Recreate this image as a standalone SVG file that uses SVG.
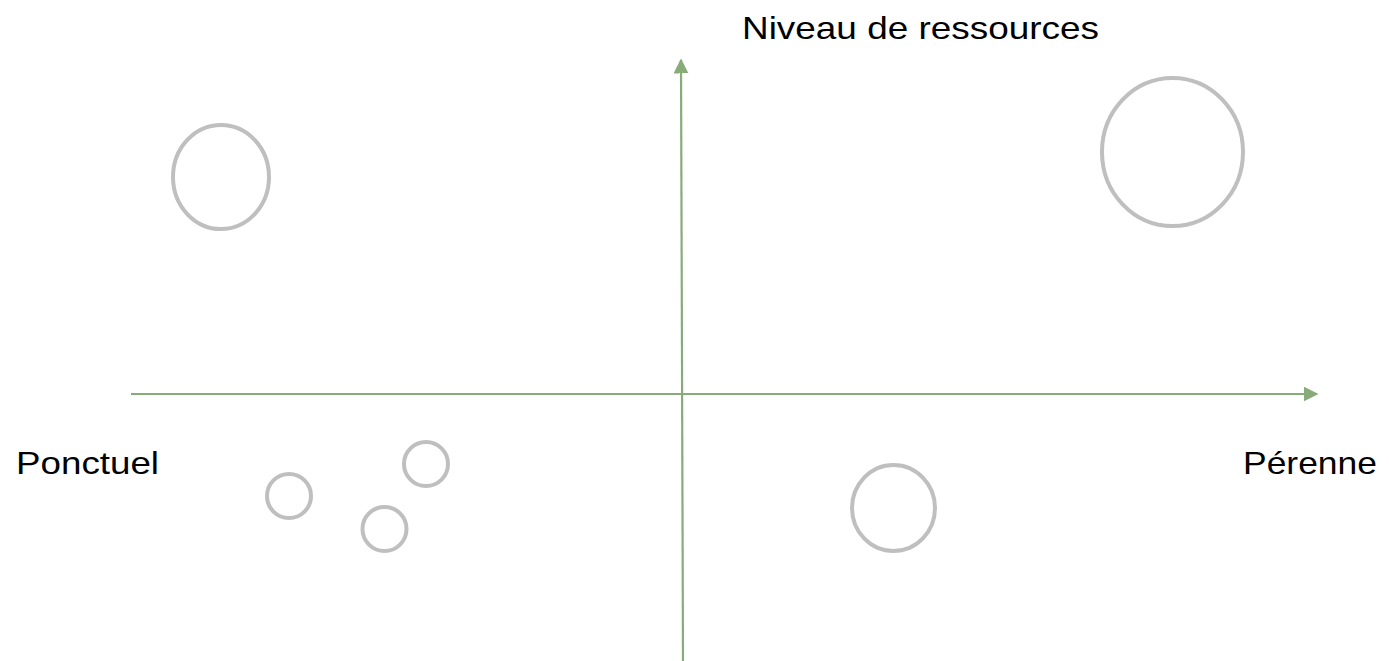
<svg xmlns="http://www.w3.org/2000/svg" width="1389" height="661" viewBox="0 0 1389 661">
<defs>
<style>
.axis{stroke:#88ab7a;stroke-width:2.2;fill:none}
.node{fill:none;stroke:#bfbfbf;stroke-width:4}
.lbl{font-family:"Liberation Sans",Arial,sans-serif;font-size:32px;fill:#000}
</style>
<marker id="ah" viewBox="0 0 10 10" refX="9" refY="5" markerWidth="15" markerHeight="15" markerUnits="userSpaceOnUse" orient="auto">
<path d="M0,0 L10,5 L0,10 Z" fill="#88ab7a"/>
</marker>
</defs>
<rect width="1389" height="661" fill="#fff"/>
<g id="connectors">
<line class="axis" x1="683" y1="661" x2="681" y2="60" marker-end="url(#ah)"/>
<line class="axis" x1="131" y1="394" x2="1317" y2="394" marker-end="url(#ah)"/>
</g>
<g id="label-y"><text class="lbl" x="742" y="39" textLength="357" lengthAdjust="spacingAndGlyphs">Niveau de ressources</text></g>
<g id="label-left"><text class="lbl" x="16" y="474" textLength="143" lengthAdjust="spacingAndGlyphs">Ponctuel</text></g>
<g id="label-right"><text class="lbl" x="1243" y="474" textLength="134" lengthAdjust="spacingAndGlyphs">Pérenne</text></g>
<g id="n1"><ellipse class="node" cx="221" cy="177" rx="48" ry="52"/></g>
<g id="n2"><ellipse class="node" cx="1172.5" cy="152" rx="70.5" ry="74"/></g>
<g id="n3"><ellipse class="node" cx="893.5" cy="508" rx="41.5" ry="43"/></g>
<g id="n4"><circle class="node" cx="289" cy="496" r="22"/></g>
<g id="n5"><circle class="node" cx="426" cy="464" r="22"/></g>
<g id="n6"><circle class="node" cx="384.5" cy="529" r="22"/></g>
</svg>
